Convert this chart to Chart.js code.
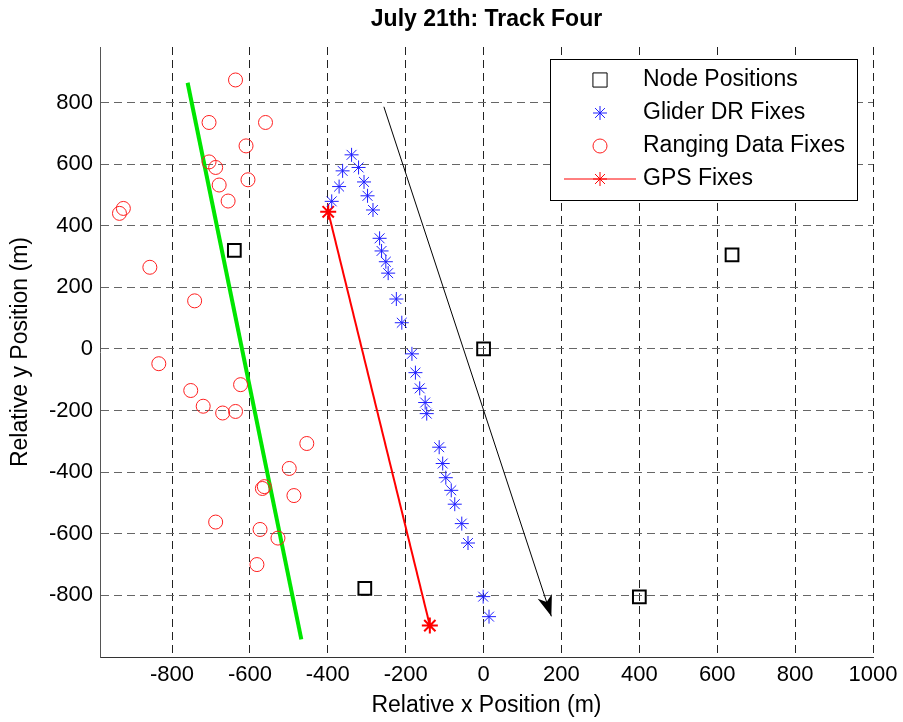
<!DOCTYPE html>
<html>
<head>
<meta charset="utf-8">
<script src="https://cdn.jsdelivr.net/npm/chart.js@4.4.0/dist/chart.umd.min.js"></script>
<style>
html, body { margin: 0; padding: 0; background: #fff; }
#wrap { width: 903px; height: 722px; }
</style>
</head>
<body>
<div id="wrap"><canvas id="track"></canvas></div>
<script>
// tick values
const xTicks = [-800, -600, -400, -200, 0, 200, 400, 600, 800, 1000];
const yTicks = [-800, -600, -400, -200, 0, 200, 400, 600, 800];

// node positions
const nodeX = [-640, -305, 0, 400, 638];
const nodeY = [320, -777, 0, -805, 305];

// glider dead reckoning fixes
const gliderX = [-390, -371, -362, -339, -321, -307, -298, -284, -267, -262, -251, -245, -224, -210,
                 -184, -175, -164, -150, -146, -114, -105, -97, -83, -74, -56, -40, -1, 14];
const gliderY = [479, 527, 578, 630, 589, 542, 497, 451, 359, 318, 283, 246, 162, 85,
                 -16, -77, -128, -174, -210, -319, -372, -418, -459, -504, -567, -630, -804, -869];

// ranging data fixes
const rangeX = [-637, -705, -560, -610, -705, -688, -605, -679, -656, -925, -935, -857, -742,
                -834, -752, -720, -670, -637, -624, -454, -499, -563, -568, -487, -688, -574, -528, -582];
const rangeY = [873, 735, 735, 659, 607, 589, 549, 532, 480, 456, 440, 265, 156,
                -48, -135, -186, -208, -203, -116, -307, -388, -447, -453, -476, -562, -586, -614, -700];

// gps fixes
const gpsX = [-399, -138];
const gpsY = [445, -898];

// green fitted track
const fitX = [-760, -468];
const fitY = [864, -943];

// heading arrow
const headX = [-256, 174];
const headY = [786, -868];

function pts(xs, ys) {
    return xs.map((x, i) => ({x: x, y: ys[i]}));
}

const FONT = "'Liberation Sans', Arial, sans-serif";

function drawMarker(ctx, style, x, y, r) {
    ctx.beginPath();
    if (style === 'rect') {
        const s = r * Math.SQRT1_2;
        ctx.rect(x - s, y - s, 2 * s, 2 * s);
    } else if (style === 'circle') {
        ctx.arc(x, y, r, 0, Math.PI * 2);
    } else if (style === 'star') {
        const d = r * Math.SQRT1_2;
        ctx.moveTo(x - r, y); ctx.lineTo(x + r, y);
        ctx.moveTo(x, y - r); ctx.lineTo(x, y + r);
        ctx.moveTo(x - d, y - d); ctx.lineTo(x + d, y + d);
        ctx.moveTo(x - d, y + d); ctx.lineTo(x + d, y - d);
    }
    ctx.stroke();
}

// arrow head at the end of the heading line
const arrowHead = {
    id: 'arrowHead',
    afterDatasetsDraw(chart) {
        const xs = chart.scales.x, ys = chart.scales.y;
        const n = headX.length;
        const x0 = xs.getPixelForValue(headX[n - 2]), y0 = ys.getPixelForValue(headY[n - 2]);
        const x1 = xs.getPixelForValue(headX[n - 1]), y1 = ys.getPixelForValue(headY[n - 1]);
        const len = Math.hypot(x1 - x0, y1 - y0);
        const ux = (x1 - x0) / len, uy = (y1 - y0) / len;
        const nx = -uy, ny = ux;
        const L = 21, W = 7.5, B = 15;
        const ctx = chart.ctx;
        ctx.save();
        ctx.fillStyle = '#000';
        ctx.beginPath();
        ctx.moveTo(x1, y1);
        ctx.lineTo(x1 - L * ux + W * nx, y1 - L * uy + W * ny);
        ctx.lineTo(x1 - B * ux, y1 - B * uy);
        ctx.lineTo(x1 - L * ux - W * nx, y1 - L * uy - W * ny);
        ctx.closePath();
        ctx.fill();
        ctx.restore();
    }
};

// boxed legend inside the axes, top right
const boxLegend = {
    id: 'boxLegend',
    afterDraw(chart) {
        const ctx = chart.ctx;
        const area = chart.chartArea;
        const w = 307, h = 141;
        const left = area.right - 16 - w, top = area.top + 12;
        ctx.save();
        ctx.fillStyle = '#fff';
        ctx.fillRect(left, top, w, h);
        ctx.strokeStyle = '#000';
        ctx.lineWidth = 1;
        ctx.strokeRect(Math.round(left) + 0.5, Math.round(top) + 0.5, w, h);
        const items = chart.data.datasets.filter(d => d.inLegend);
        items.forEach((d, i) => {
            const cy = top + 21 + i * 33;
            const mx = left + 50;
            ctx.strokeStyle = d.borderColor;
            ctx.lineWidth = 1;
            if (d.showLine) {
                ctx.beginPath();
                ctx.moveTo(left + 14, cy);
                ctx.lineTo(left + 86, cy);
                ctx.stroke();
            }
            drawMarker(ctx, d.pointStyle, mx, cy, d.legendRadius);
            ctx.fillStyle = '#000';
            ctx.font = '23px ' + FONT;
            ctx.textAlign = 'left';
            ctx.textBaseline = 'middle';
            ctx.fillText(d.label, left + 93, cy);
        });
        ctx.restore();
    }
};

new Chart(document.getElementById('track'), {
    type: 'scatter',
    data: {
        datasets: [
            {
                label: 'Node Positions',
                inLegend: true,
                legendRadius: 10,
                data: pts(nodeX, nodeY),
                pointStyle: 'rect',
                pointRadius: 9,
                borderColor: '#000',
                backgroundColor: 'rgba(0,0,0,0)',
                borderWidth: 2
            },
            {
                label: 'Glider DR Fixes',
                inLegend: true,
                legendRadius: 7,
                data: pts(gliderX, gliderY),
                pointStyle: 'star',
                pointRadius: 7,
                borderColor: '#1f1fff',
                backgroundColor: 'rgba(0,0,0,0)',
                borderWidth: 1
            },
            {
                label: 'Ranging Data Fixes',
                inLegend: true,
                legendRadius: 7,
                data: pts(rangeX, rangeY),
                pointStyle: 'circle',
                pointRadius: 7,
                borderColor: '#ff1f1f',
                backgroundColor: 'rgba(0,0,0,0)',
                borderWidth: 1
            },
            {
                label: 'GPS Fixes',
                inLegend: true,
                legendRadius: 7,
                data: pts(gpsX, gpsY),
                showLine: true,
                pointStyle: 'star',
                pointRadius: 8,
                borderColor: '#ff0000',
                backgroundColor: 'rgba(0,0,0,0)',
                borderWidth: 2
            },
            {
                label: 'track fit',
                data: pts(fitX, fitY),
                showLine: true,
                pointRadius: 0,
                borderColor: '#00e600',
                borderWidth: 4
            },
            {
                label: 'heading',
                data: pts(headX, headY),
                showLine: true,
                pointRadius: 0,
                borderColor: '#000',
                borderWidth: 1
            }
        ]
    },
    options: {
        responsive: true,
        maintainAspectRatio: false,
        animation: false,
        events: [],
        layout: { padding: { left: 0, right: 30, top: 0, bottom: 0 } },
        scales: {
            x: {
                type: 'linear',
                min: -985,
                max: 1000,
                afterBuildTicks: s => { s.ticks = xTicks.map(v => ({value: v})); },
                afterFit: s => { s.height = 65; },
                ticks: {
                    color: '#000',
                    padding: 5,
                    maxRotation: 0,
                    font: { family: FONT, size: 22, lineHeight: 1.2 },
                    callback: v => String(v)
                },
                grid: { color: '#222', lineWidth: 1, drawTicks: false },
                border: { display: true, color: '#333', width: 1, dash: [8, 5] },
                title: {
                    display: true,
                    text: 'Relative x Position (m)',
                    color: '#000',
                    font: { family: FONT, size: 23, lineHeight: 1.2 },
                    padding: { top: 0, bottom: 3 }
                }
            },
            y: {
                type: 'linear',
                min: -1000,
                max: 980,
                afterBuildTicks: s => { s.ticks = yTicks.map(v => ({value: v})); },
                afterFit: s => { s.width = 100; },
                ticks: {
                    color: '#000',
                    padding: 7,
                    font: { family: FONT, size: 22, lineHeight: 1.2 },
                    callback: v => String(v)
                },
                grid: { color: '#666', lineWidth: 1, drawTicks: false },
                border: { display: true, color: '#555', width: 1, dash: [8, 5] },
                title: {
                    display: true,
                    text: 'Relative y Position (m)',
                    color: '#000',
                    font: { family: FONT, size: 23, lineHeight: 1.2 },
                    padding: { top: 7, bottom: 0 }
                }
            }
        },
        plugins: {
            legend: { display: false },
            tooltip: { enabled: false },
            title: {
                display: true,
                fullSize: false,
                text: 'July 21th: Track Four',
                color: '#000',
                font: { family: FONT, size: 23, weight: 'bold', lineHeight: 1.2 },
                padding: { top: 6, bottom: 13.4 }
            }
        }
    },
    plugins: [arrowHead, boxLegend]
});
</script>
</body>
</html>
